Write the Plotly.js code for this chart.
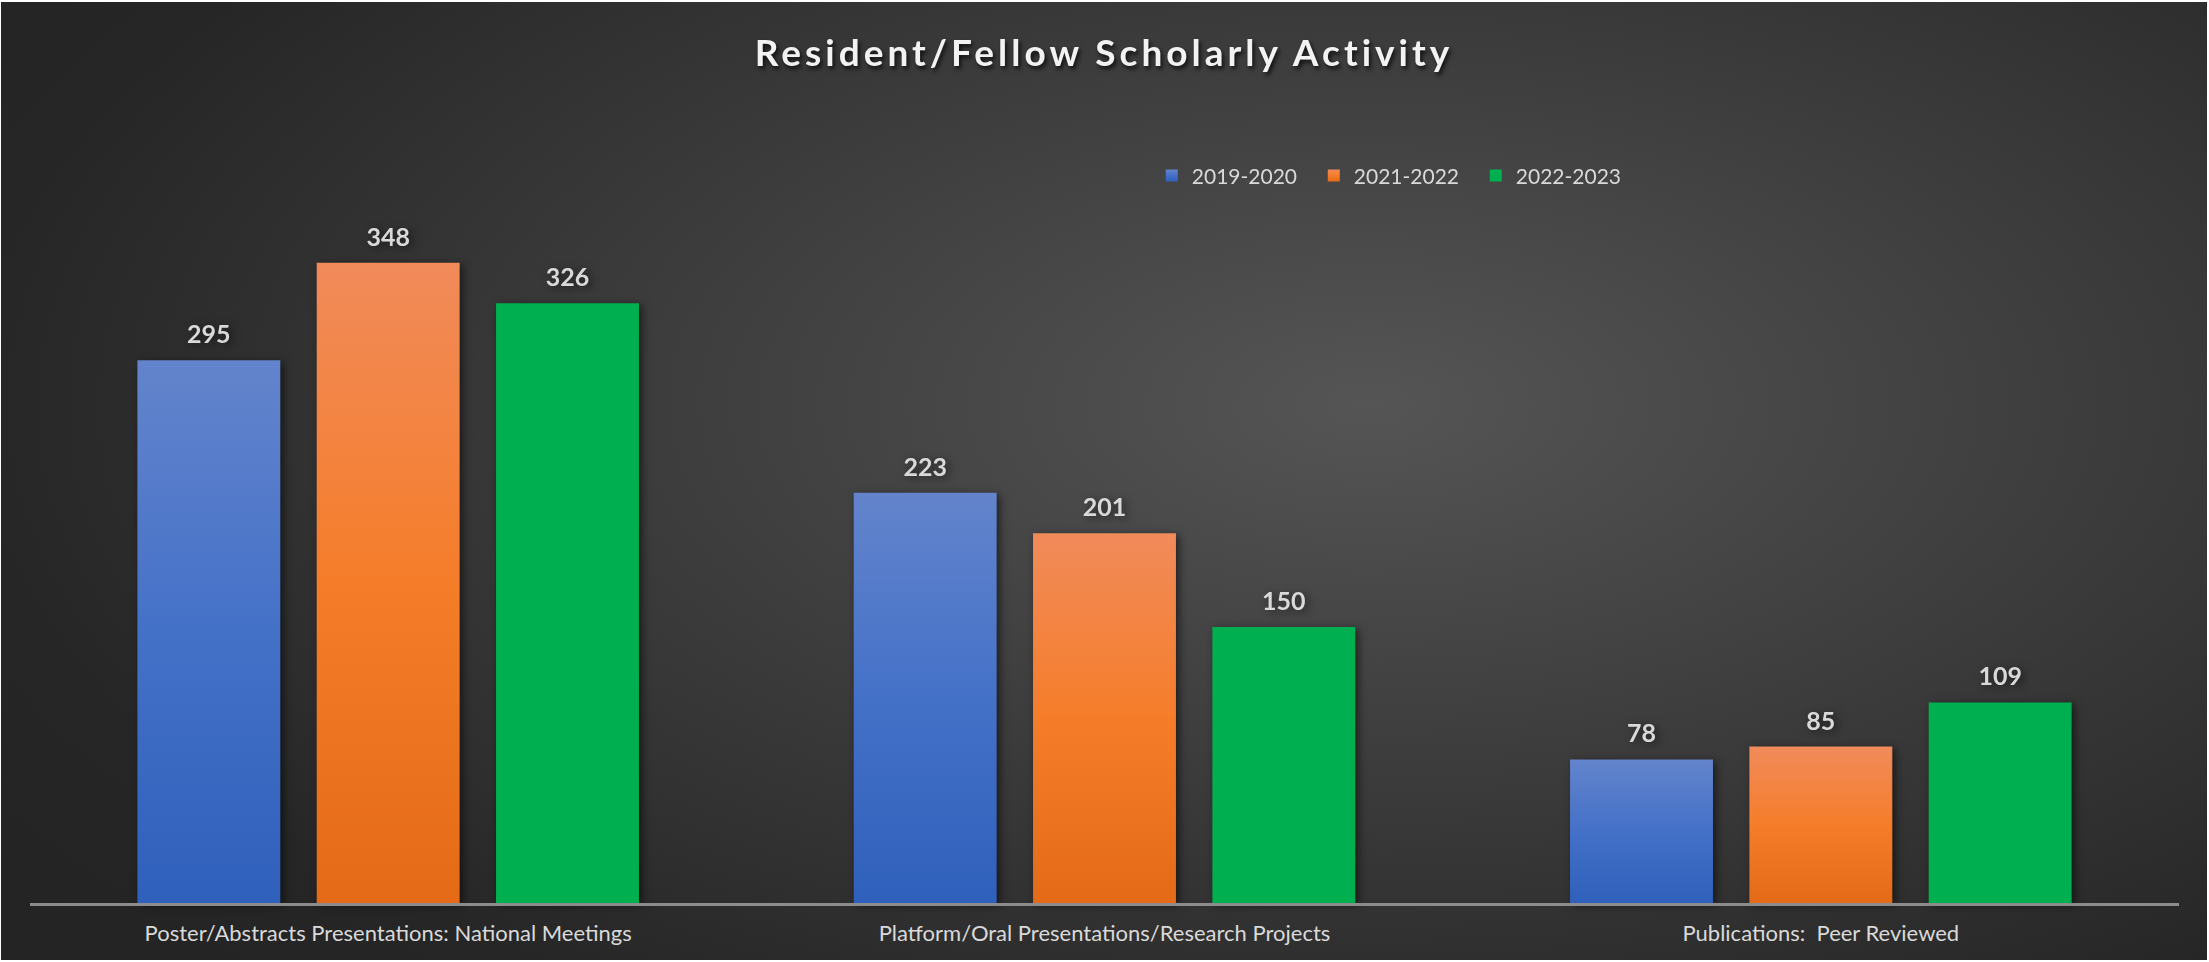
<!DOCTYPE html>
<html>
<head>
<meta charset="utf-8">
<script src="https://cdn.plot.ly/plotly-3.0.1.min.js"></script>
<style>
  html, body { margin: 0; padding: 0; background: #ffffff; }
  #wrap { position: absolute; left: 1px; top: 2px; width: 2206px; height: 958px;
    background: radial-gradient(ellipse 75% 85% at 62% 42%, #555555 0%, #3c3c3c 45%, #262626 85%, #242424 100%); }
  #chart { width: 2206px; height: 958px; }
</style>
</head>
<body>
<div id="wrap"><div id="chart"></div></div>
<script>
const categories = [
  "Poster/Abstracts Presentations: National Meetings",
  "Platform/Oral Presentations/Research Projects",
  "Publications:  Peer Reviewed"
];
const seriesNames = ["2019-2020", "2021-2022", "2022-2023"];
const values2019_2020 = [295, 223, 78];
const values2021_2022 = [348, 201, 85];
const values2022_2023 = [326, 150, 109];
const seriesColors = ["#4472C4", "#ED7D31", "#00B050"];

const allValues = [values2019_2020, values2021_2022, values2022_2023];

const traces = allValues.map((vals, i) => ({
  type: "bar",
  name: seriesNames[i],
  x: categories,
  y: vals,
  marker: { color: seriesColors[i], line: { width: 0 } },
  text: vals.map(String),
  textposition: "outside",
  texttemplate: "%{y}",
  textfont: { family: "Lato, sans-serif", size: 25, color: "#d9d9d9", weight: 700 },
  cliponaxis: false,
  hoverinfo: "skip"
}));

const layout = {
  width: 2206,
  height: 958,
  paper_bgcolor: "rgba(0,0,0,0)",
  plot_bgcolor: "rgba(0,0,0,0)",
  margin: { l: 29, r: 28, t: 165, b: 57, pad: 0 },
  barmode: "group",
  bargap: 0.249,
  bargroupgap: 0.203,
  title: {
    text: "Resident/Fellow Scholarly Activity",
    font: { family: "Lato, sans-serif", size: 37, color: "#f2f2f2", weight: 700, shadow: "2px 3px 4px rgba(0,0,0,0.75)" },
    x: 0.5, xanchor: "center",
    y: 0.947, yanchor: "middle", yref: "container"
  },
  legend: {
    orientation: "h",
    x: 0.522, xanchor: "left",
    y: 0.988, yanchor: "middle",
    font: { family: "Lato, sans-serif", size: 21, color: "#d9d9d9" },
    bgcolor: "rgba(0,0,0,0)",
    entrywidth: 117,
    entrywidthmode: "pixels",
    itemclick: false
  },
  xaxis: {
    type: "category",
    showgrid: false,
    zeroline: false,
    showline: true,
    linecolor: "#8c8c8c",
    linewidth: 2.5,
    layer: "above traces",
    ticks: "",
    tickfont: { family: "Lato, sans-serif", size: 22, color: "#d9d9d9" },
    ticklabelstandoff: 9
  },
  yaxis: {
    range: [0, 400],
    showgrid: false,
    zeroline: false,
    showline: false,
    showticklabels: false,
    ticks: ""
  },
  showlegend: true
};

function decorate() {
  const gd = document.getElementById("chart");
  const svg = gd.querySelector("svg.main-svg");
  if (!svg) return;
  const ns = "http://www.w3.org/2000/svg";
  if (!document.getElementById("gradBlue")) {
    const defs = document.createElementNS(ns, "defs");
    const mk = (id, stops) => {
      const g = document.createElementNS(ns, "linearGradient");
      g.setAttribute("id", id);
      g.setAttribute("x1", "0"); g.setAttribute("y1", "0");
      g.setAttribute("x2", "0"); g.setAttribute("y2", "1");
      stops.forEach(([o, c]) => {
        const s = document.createElementNS(ns, "stop");
        s.setAttribute("offset", o);
        s.setAttribute("stop-color", c);
        g.appendChild(s);
      });
      defs.appendChild(g);
    };
    mk("gradBlue", [["0", "#6384cc"], ["0.5", "#4471c8"], ["1", "#2f60bb"]]);
    mk("gradOrange", [["0", "#f18b5a"], ["0.5", "#f57d2a"], ["1", "#e46a17"]]);
    mk("gradGreen", [["0", "#00b050"], ["1", "#00b050"]]);
    svg.insertBefore(defs, svg.firstChild);
  }
  const ids = ["gradBlue", "gradOrange", "gradGreen"];
  gd.querySelectorAll("g.barlayer g.trace.bars").forEach((t, i) => {
    t.querySelectorAll("g.point path").forEach(p => { p.style.fill = "url(#" + ids[i] + ")"; });
    t.style.filter = "drop-shadow(3px 2px 4px rgba(0,0,0,0.55))";
    t.querySelectorAll("text.bartext").forEach(el => {
      el.setAttribute("transform", (el.getAttribute("transform") || "") + " translate(0,-9)");
    });
  });
  gd.querySelectorAll("g.legend g.traces").forEach((t, i) => {
    t.querySelectorAll("g.legendpoints path").forEach(p => { p.style.fill = "url(#" + ids[i] + ")"; });
  });
  const title = gd.querySelector("text.gtitle");
  if (title) title.style.letterSpacing = "4px";
}

Plotly.newPlot("chart", traces, layout, { displayModeBar: false, staticPlot: true }).then(decorate);
</script>
</body>
</html>
